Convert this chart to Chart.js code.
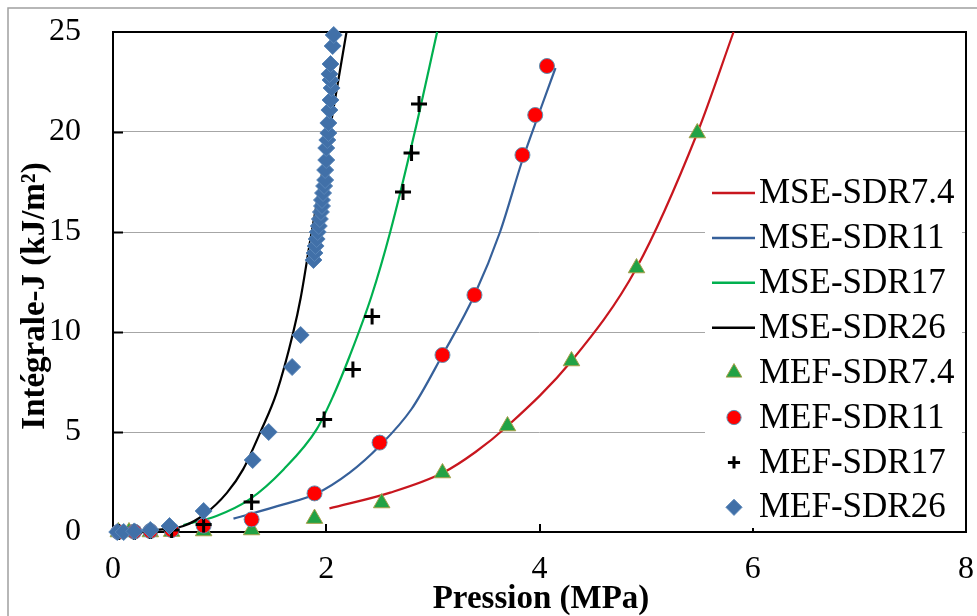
<!DOCTYPE html>
<html>
<head>
<meta charset="utf-8">
<script src="https://cdn.jsdelivr.net/npm/chart.js@4.4.1/dist/chart.umd.min.js"></script>
<style>
  html, body { margin: 0; padding: 0; background: #fff; }
  #wrap { width: 977px; height: 616px; }
</style>
</head>
<body>
<div id="wrap"><canvas id="myChart" width="977" height="616"></canvas></div>
<script>
/*globals Chart*/
// courbes MSE (lignes lissées) et points MEF
const pMSE74 = [2.03, 2.6, 3.09, 3.4, 3.7, 4.3, 4.91, 5.48, 5.82];
const jMSE74 = [1.18, 1.97, 2.95, 4.0, 5.3, 8.55, 13.2, 19.95, 25.0];
const pMSE11 = [1.13, 1.6, 1.9, 2.22, 2.5, 2.8, 3.09, 3.39, 3.63, 3.84, 4.0, 4.15];
const jMSE11 = [0.67, 1.38, 1.9, 2.97, 4.3, 6.15, 8.85, 11.85, 15.0, 18.6, 21.0, 23.2];
const pMSE17 = [0.66, 0.97, 1.28, 1.6, 1.91, 2.065, 2.22, 2.425, 2.6, 2.83, 3.04];
const jMSE17 = [0.35, 0.8, 1.63, 3.13, 5.13, 6.8, 8.8, 11.8, 15.0, 20.0, 25.0];
const pMSE26 = [0.4, 0.66, 0.85, 1.07, 1.22, 1.38, 1.535, 1.69, 1.76, 1.86, 2.03, 2.19];
const jMSE26 = [0.1, 0.3, 0.85, 1.97, 3.13, 4.97, 6.97, 9.97, 11.7, 14.9, 20.0, 25.0];

const pMEF74 = [0.05, 0.15, 0.35, 0.55, 0.85, 1.3, 1.89, 2.52, 3.09, 3.7, 4.3, 4.91, 5.48];
const jMEF74 = [0, 0, 0, 0.02, 0.05, 0.1, 0.67, 1.45, 2.95, 5.3, 8.55, 13.2, 19.95];
const pMEF11 = [0.05, 0.2, 0.35, 0.55, 0.85, 1.3, 1.89, 2.5, 3.09, 3.39, 3.84, 3.96, 4.07];
const jMEF11 = [0, 0.02, 0.05, 0.1, 0.32, 0.63, 1.93, 4.47, 8.85, 11.85, 18.85, 20.85, 23.3];
const pMEF17 = [0.05, 0.2, 0.35, 0.55, 0.85, 1.3, 1.98, 2.25, 2.43, 2.72, 2.8, 2.87];
const jMEF17 = [0, 0, 0.05, 0.1, 0.37, 1.5, 5.63, 8.13, 10.77, 17.0, 18.95, 21.4];
const pMEF26 = [0.04, 0.1, 0.2, 0.35, 0.53, 0.85, 1.31, 1.46, 1.68, 1.76, 1.88, 1.89, 1.9, 1.91, 1.92, 1.93, 1.94, 1.95, 1.96, 1.96, 1.97, 1.98, 1.99, 1.99, 2.0, 2.0, 2.01, 2.02, 2.02, 2.03, 2.04, 2.05, 2.04, 2.03, 2.04, 2.06, 2.07];
const jMEF26 = [0, 0, 0.03, 0.1, 0.3, 1.05, 3.6, 5.0, 8.25, 9.85, 13.6, 13.95, 14.3, 14.65, 15.0, 15.3, 15.65, 16.0, 16.3, 16.6, 16.95, 17.3, 17.6, 18.1, 18.6, 19.2, 19.6, 19.95, 20.45, 21.1, 21.6, 22.2, 22.6, 22.9, 23.4, 24.3, 24.85];

const xTicks = [0, 2, 4, 6, 8];
const yTicks = [0, 5, 10, 15, 20, 25];
const titreX = "Pression (MPa)";
const titreY = "Intégrale-J (kJ/m²)";

const police = '"Liberation Serif", "Times New Roman", serif';

function points(xs, ys) {
	return xs.map((x, i) => ({ x: x, y: ys[i] }));
}

function courbe(label, xs, ys, couleur, ordre) {
	return {
		label: label,
		type: "line",
		data: points(xs, ys),
		borderColor: couleur,
		backgroundColor: couleur,
		borderWidth: 2.2,
		pointRadius: 0,
		showLine: true,
		cubicInterpolationMode: "monotone",
		clip: false,
		order: ordre,
	};
}

function nuage(label, xs, ys, style, fond, bord, rayon, epaisseur, ordre) {
	return {
		label: label,
		type: "scatter",
		data: points(xs, ys),
		pointStyle: style,
		pointRadius: rayon,
		pointHoverRadius: rayon,
		backgroundColor: fond,
		borderColor: bord,
		borderWidth: epaisseur,
		showLine: false,
		clip: false,
		order: ordre,
	};
}

function dessinerMarqueur(ctx, ds, x, y) {
	const r = ds.pointRadius * 0.95;
	ctx.save();
	ctx.fillStyle = ds.backgroundColor;
	ctx.strokeStyle = ds.borderColor;
	ctx.lineWidth = ds.borderWidth;
	ctx.beginPath();
	if (ds.pointStyle === "triangle") {
		ctx.moveTo(x, y - r);
		ctx.lineTo(x + r * 0.866, y + r * 0.5);
		ctx.lineTo(x - r * 0.866, y + r * 0.5);
		ctx.closePath();
		ctx.fill();
		ctx.stroke();
	} else if (ds.pointStyle === "circle") {
		ctx.arc(x, y, r, 0, Math.PI * 2);
		ctx.fill();
		ctx.stroke();
	} else if (ds.pointStyle === "cross") {
		ctx.moveTo(x - r * 0.8, y);
		ctx.lineTo(x + r * 0.8, y);
		ctx.moveTo(x, y - r * 0.8);
		ctx.lineTo(x, y + r * 0.8);
		ctx.stroke();
	} else {
		ctx.moveTo(x, y - r);
		ctx.lineTo(x + r, y);
		ctx.lineTo(x, y + r);
		ctx.lineTo(x - r, y);
		ctx.closePath();
		ctx.fill();
		ctx.stroke();
	}
	ctx.restore();
}

const cadre = {
	id: "cadre",
	beforeDraw(chart) {
		const ctx = chart.ctx;
		ctx.save();
		ctx.fillStyle = "#fff";
		ctx.fillRect(0, 0, chart.width, chart.height);
		ctx.strokeStyle = "#a0a0a0";
		ctx.lineWidth = 1.5;
		ctx.strokeRect(8, 8, chart.width + 10, chart.height + 10);
		ctx.restore();
	},
	beforeDatasetsDraw(chart) {
		const ctx = chart.ctx;
		const a = chart.chartArea;
		const sx = chart.scales.x;
		const sy = chart.scales.y;
		ctx.save();
		ctx.strokeStyle = "#000";
		ctx.lineWidth = 2;
		ctx.strokeRect(a.left, a.top, a.right - a.left, a.bottom - a.top);
		ctx.beginPath();
		yTicks.slice(1, -1).forEach((v) => {
			const y = Math.round(sy.getPixelForValue(v)) + 0.5;
			ctx.moveTo(a.left, y);
			ctx.lineTo(a.left + 10, y);
		});
		xTicks.slice(1, -1).forEach((v) => {
			const x = Math.round(sx.getPixelForValue(v));
			ctx.moveTo(x, a.bottom);
			ctx.lineTo(x, a.bottom - 8);
		});
		ctx.stroke();
		// fond blanc de la légende
		ctx.fillStyle = "#fff";
		ctx.fillRect(705, 166, 257, 362);
		ctx.restore();
	},
	afterDraw(chart) {
		const ctx = chart.ctx;
		ctx.save();
		ctx.fillStyle = "#000";
		ctx.font = "bold 33px " + police;
		ctx.textAlign = "center";
		ctx.textBaseline = "alphabetic";
		ctx.fillText(titreX, 541, 608);
		ctx.translate(44, 296);
		ctx.rotate(-Math.PI / 2);
		ctx.fillText(titreY, 0, 0);
		ctx.restore();

		// légende
		ctx.save();
		ctx.font = "35px " + police;
		ctx.textAlign = "left";
		ctx.textBaseline = "middle";
		chart.data.datasets.forEach((ds, i) => {
			const y = 193 + i * 44.9;
			if (ds.type === "line") {
				ctx.strokeStyle = ds.borderColor;
				ctx.lineWidth = 2.5;
				ctx.beginPath();
				ctx.moveTo(712, y);
				ctx.lineTo(755, y);
				ctx.stroke();
			} else {
				dessinerMarqueur(ctx, ds, 734, y);
			}
			ctx.fillStyle = "#000";
			ctx.fillText(ds.label, 759, y + 1);
		});
		ctx.restore();
	},
};

function genereGrafico() {
	Chart.defaults.font.family = police;
	Chart.defaults.color = "#000";
	const ctx = document.getElementById("myChart").getContext("2d");
	new Chart(ctx, {
		type: "scatter",
		data: {
			datasets: [
				courbe("MSE-SDR7.4", pMSE74, jMSE74, "#c8161e", 7),
				courbe("MSE-SDR11", pMSE11, jMSE11, "#36609a", 6),
				courbe("MSE-SDR17", pMSE17, jMSE17, "#00b04f", 5),
				courbe("MSE-SDR26", pMSE26, jMSE26, "#000000", 4),
				nuage("MEF-SDR7.4", pMEF74, jMEF74, "triangle", "#22a245", "#a7a04a", 9.5, 1, 3),
				nuage("MEF-SDR11", pMEF11, jMEF11, "circle", "#ff0000", "#5f8fb0", 7.5, 1, 2),
				nuage("MEF-SDR17", pMEF17, jMEF17, "cross", "#000000", "#000000", 8, 3, 1),
				nuage("MEF-SDR26", pMEF26, jMEF26, "rectRot", "#4170a8", "#5a86b8", 8.5, 1, 0),
			],
		},
		plugins: [cadre],
		options: {
			responsive: false,
			animation: false,
			events: [],
			layout: { padding: { top: 32, right: 11, left: 0, bottom: 0 } },
			plugins: {
				legend: { display: false },
				tooltip: { enabled: false },
			},
			scales: {
				x: {
					type: "linear",
					min: 0,
					max: 8,
					afterBuildTicks: (s) => { s.ticks = xTicks.map((v) => ({ value: v })); },
					afterFit: (s) => {
						s.height = 84;
						s.paddingLeft = 0;
						s.paddingRight = 0;
					},
					ticks: { font: { size: 32 }, padding: 18, color: "#000" },
					grid: { display: false, drawTicks: false },
					border: { display: false },
				},
				y: {
					type: "linear",
					min: 0,
					max: 25,
					afterBuildTicks: (s) => { s.ticks = yTicks.map((v) => ({ value: v })); },
					afterFit: (s) => {
						s.width = 113;
						s.paddingTop = 0;
						s.paddingBottom = 0;
					},
					ticks: { font: { size: 32 }, padding: 32, color: "#000" },
					grid: { color: "#a6a6a6", lineWidth: 1, drawTicks: false },
					border: { display: false },
				},
			},
		},
	});
}
genereGrafico();
</script>
</body>
</html>
